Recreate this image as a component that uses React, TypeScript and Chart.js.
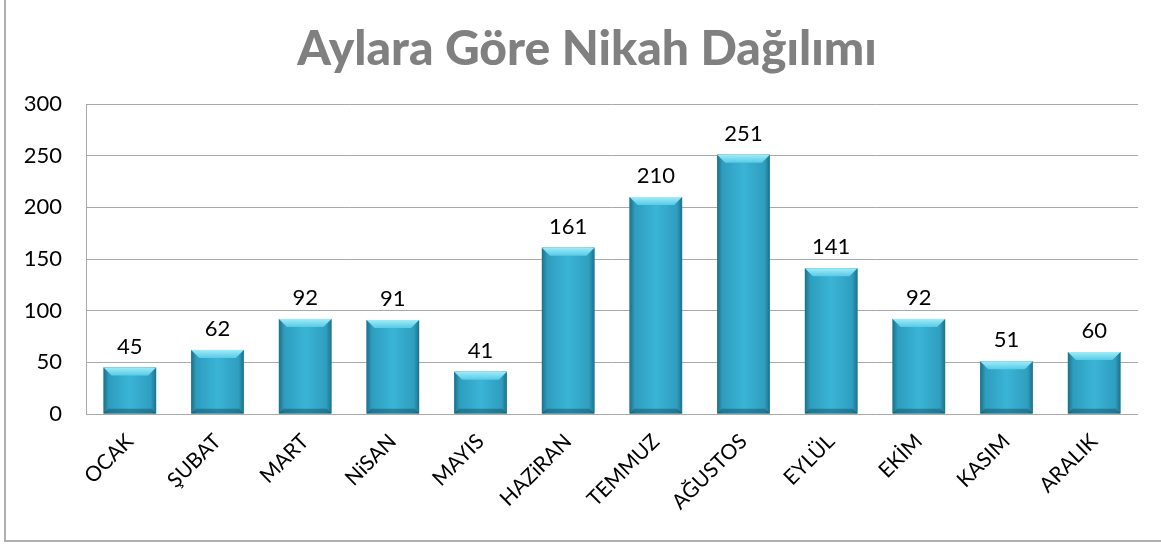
import React, { useEffect, useRef } from "react";
import { Chart, registerables } from "chart.js";

Chart.register(...registerables);

const TITLE = "Aylara Göre Nikah Dağılımı";
const MONTH_LABELS = ["OCAK", "ŞUBAT", "MART", "NiSAN", "MAYIS", "HAZiRAN", "TEMMUZ", "AĞUSTOS", "EYLÜL", "EKİM", "KASIM", "ARALIK"];
const COUNTS = [45, 62, 92, 91, 41, 161, 210, 251, 141, 92, 51, 60];
const Y_MIN = 0;
const Y_MAX = 300;
const Y_STEP = 50;

const FONT = "Lato, 'Open Sans', sans-serif";

const framePlugin = {
  id: "frame",
  beforeDraw(chart: any) {
    const ctx = chart.ctx;
    ctx.save();
    ctx.fillStyle = "#ffffff";
    ctx.fillRect(0, 0, chart.width, chart.height);
    ctx.fillStyle = "#b0b0b0";
    ctx.fillRect(4, 0, 2, 542);
    ctx.fillRect(4, 540, chart.width - 4, 2);
    ctx.fillStyle = "#808080";
    ctx.font = `900 48px ${FONT}`;
    ctx.textAlign = "center";
    ctx.textBaseline = "middle";
    ctx.fillText(TITLE, 587, 50);
    ctx.restore();
  },
};

const bevelPlugin = {
  id: "bevel",
  afterDatasetsDraw(chart: any) {
    const ctx = chart.ctx;
    const meta = chart.getDatasetMeta(0);
    ctx.save();
    meta.data.forEach((bar: any, i: number) => {
      const w = bar.width;
      const left = bar.x - w / 2;
      const right = bar.x + w / 2;
      const top = bar.y;
      const bottom = bar.base;
      const h = bottom - top;
      const b = Math.min(8, h / 3);
      const g = ctx.createLinearGradient(left, 0, right, 0);
      g.addColorStop(0, "#1d6f88");
      g.addColorStop(0.1, "#2e9dbe");
      g.addColorStop(0.5, "#3ab4d6");
      g.addColorStop(0.9, "#2f9ebf");
      g.addColorStop(1, "#1f7089");
      ctx.fillStyle = g;
      ctx.fillRect(left, top, w, h);
      const tg = ctx.createLinearGradient(0, top, 0, top + b);
      tg.addColorStop(0, "#a0ecf8");
      tg.addColorStop(1, "#58cae6");
      ctx.fillStyle = tg;
      ctx.beginPath();
      ctx.moveTo(left, top);
      ctx.lineTo(right, top);
      ctx.lineTo(right - b, top + b);
      ctx.lineTo(left + b, top + b);
      ctx.closePath();
      ctx.fill();
      ctx.fillStyle = "rgba(20,70,90,0.45)";
      ctx.beginPath();
      ctx.moveTo(left, bottom);
      ctx.lineTo(right, bottom);
      ctx.lineTo(right - b * 0.6, bottom - b * 0.6);
      ctx.lineTo(left + b * 0.6, bottom - b * 0.6);
      ctx.closePath();
      ctx.fill();
      ctx.fillStyle = "#000000";
      ctx.font = `22px ${FONT}`;
      ctx.textAlign = "center";
      ctx.textBaseline = "alphabetic";
      ctx.fillText(String(COUNTS[i]), bar.x, top - 14);
    });
    ctx.restore();
  },
};

export default function App() {
  const ref = useRef<HTMLCanvasElement | null>(null);
  useEffect(() => {
    document.body.style.margin = "0";
    const canvas = ref.current;
    if (!canvas) return;
    const chart = new Chart(canvas, {
      type: "bar",
      data: {
        labels: MONTH_LABELS,
        datasets: [
          {
            data: COUNTS,
            backgroundColor: "#35a9cb",
            borderWidth: 0,
            barPercentage: 0.6,
            categoryPercentage: 1,
          },
        ],
      },
      options: {
        animation: false,
        responsive: false,
        maintainAspectRatio: false,
        layout: { padding: { left: 20, right: 23, top: 104, bottom: 0 } },
        plugins: {
          legend: { display: false },
          title: { display: false },
          tooltip: { enabled: false },
        },
        scales: {
          x: {
            grid: { display: false, drawTicks: false },
            border: { display: false },
            ticks: {
              autoSkip: false,
              maxRotation: 45,
              minRotation: 45,
              padding: 15,
              color: "#000000",
              font: { family: FONT, size: 21 },
            },
            afterFit(scale: any) {
              scale.height = 130;
            },
          },
          y: {
            min: Y_MIN,
            max: Y_MAX,
            ticks: {
              stepSize: Y_STEP,
              padding: 24,
              color: "#000000",
              font: { family: FONT, size: 22 },
            },
            grid: { color: "#a9a9a9", lineWidth: 1, drawTicks: false },
            border: { display: true, color: "#a9a9a9", width: 1 },
            afterFit(scale: any) {
              scale.width = 66;
            },
          },
        },
      },
      plugins: [framePlugin, bevelPlugin],
    });
    return () => chart.destroy();
  }, []);
  return (
    <div style={{ position: "absolute", left: 0, top: 0, width: 1161, height: 544 }}>
      <canvas ref={ref} width={1161} height={544} style={{ width: 1161, height: 544 }} />
    </div>
  );
}
